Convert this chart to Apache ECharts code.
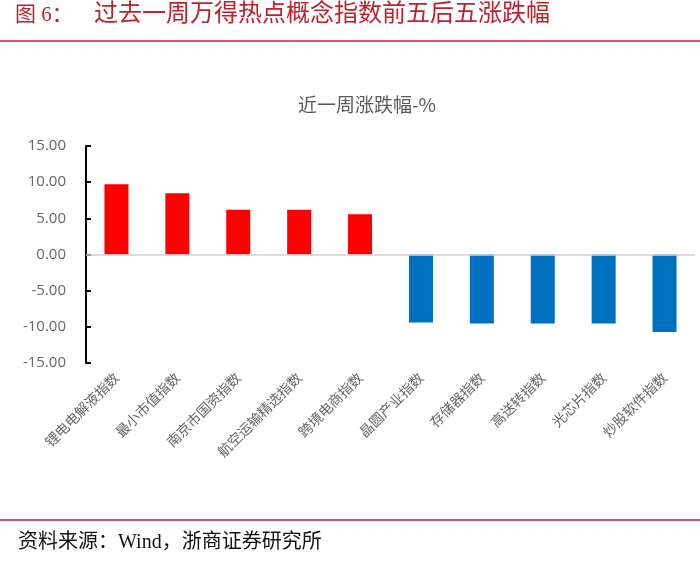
<!DOCTYPE html>
<html>
<head>
<meta charset="utf-8">
<script src="https://cdn.jsdelivr.net/npm/echarts@6/dist/echarts.min.js"></script>
<style>
html,body{margin:0;padding:0;background:#fff;}
#c{width:700px;height:562px;}
</style>
</head>
<body>
<div id="c"></div>
<script>
const categories = ['锂电电解液指数','最小市值指数','南京市国资指数','航空运输精选指数','跨境电商指数','晶圆产业指数','存储器指数','高送转指数','光芯片指数','炒股软件指数'];
const values = [9.70, 8.48, 6.18, 6.18, 5.57, -9.40, -9.55, -9.55, -9.55, -10.70];
const yTicks = { min: -15, max: 15, interval: 5 };

const chart = echarts.init(document.getElementById('c'), null, {renderer:'canvas'});
const cjkSerif = "'Liberation Serif','Noto Sans CJK SC',serif";
const cjkSans = "'Noto Sans CJK SC','Noto Sans',sans-serif";
chart.setOption({
  backgroundColor: '#fff',
  animation: false,
  title: [{
    text: '近一周涨跌幅-%',
    left: 362, top: 90, textAlign: 'center',
    textStyle: { color: '#595959', fontSize: 19, fontWeight: 'normal', fontFamily: cjkSans }
  }],
  graphic: [
    { type: 'text', left: 15, top: 5, style: { text: '图 6：', fill: '#c0202a', font: 'normal 21px ' + cjkSerif } },
    { type: 'text', left: 94, top: 3, style: { text: '过去一周万得热点概念指数前五后五涨跌幅', fill: '#c0202a', font: 'normal 24px ' + cjkSerif } },
    { type: 'line', shape: { x1: 0, y1: 41, x2: 700, y2: 41 }, style: { stroke: '#c0202a', lineWidth: 1.3 } },
    { type: 'line', shape: { x1: 0, y1: 520, x2: 700, y2: 520 }, style: { stroke: '#c0202a', lineWidth: 1.3 } },
    { type: 'text', left: 18, top: 533, style: { text: '资料来源：Wind，浙商证券研究所', fill: '#111', font: 'normal 20px ' + cjkSerif } }
  ],
  grid: { left: 86, right: 5, top: 146, bottom: 199, containLabel: false },
  xAxis: {
    type: 'category',
    data: categories,
    axisLine: { show: false, onZero: false },
    axisTick: { show: false },
    axisLabel: { rotate: 45, color: '#666', fontSize: 14, margin: 12, interval: 0, fontFamily: cjkSans }
  },
  yAxis: {
    type: 'value',
    min: yTicks.min, max: yTicks.max, interval: yTicks.interval,
    axisLine: { show: true, lineStyle: { color: '#000', width: 2 } },
    axisTick: { show: true, inside: true, length: 5, lineStyle: { color: '#000', width: 2 } },
    splitLine: { show: false },
    axisLabel: { color: '#666', fontSize: 15, margin: 20, fontFamily: "'Open Sans','Noto Sans',sans-serif", formatter: v => v.toFixed(2) }
  },
  series: [{
    type: 'bar',
    data: values,
    barWidth: 24,
    itemStyle: { color: p => p.value >= 0 ? '#ff0000' : '#0070c0' },
    markLine: {
      silent: true, symbol: 'none', label: { show: false },
      lineStyle: { color: '#d0d0d0', width: 1.5, type: 'solid' },
      data: [{ yAxis: 0 }]
    }
  }]
});
</script>
</body>
</html>
